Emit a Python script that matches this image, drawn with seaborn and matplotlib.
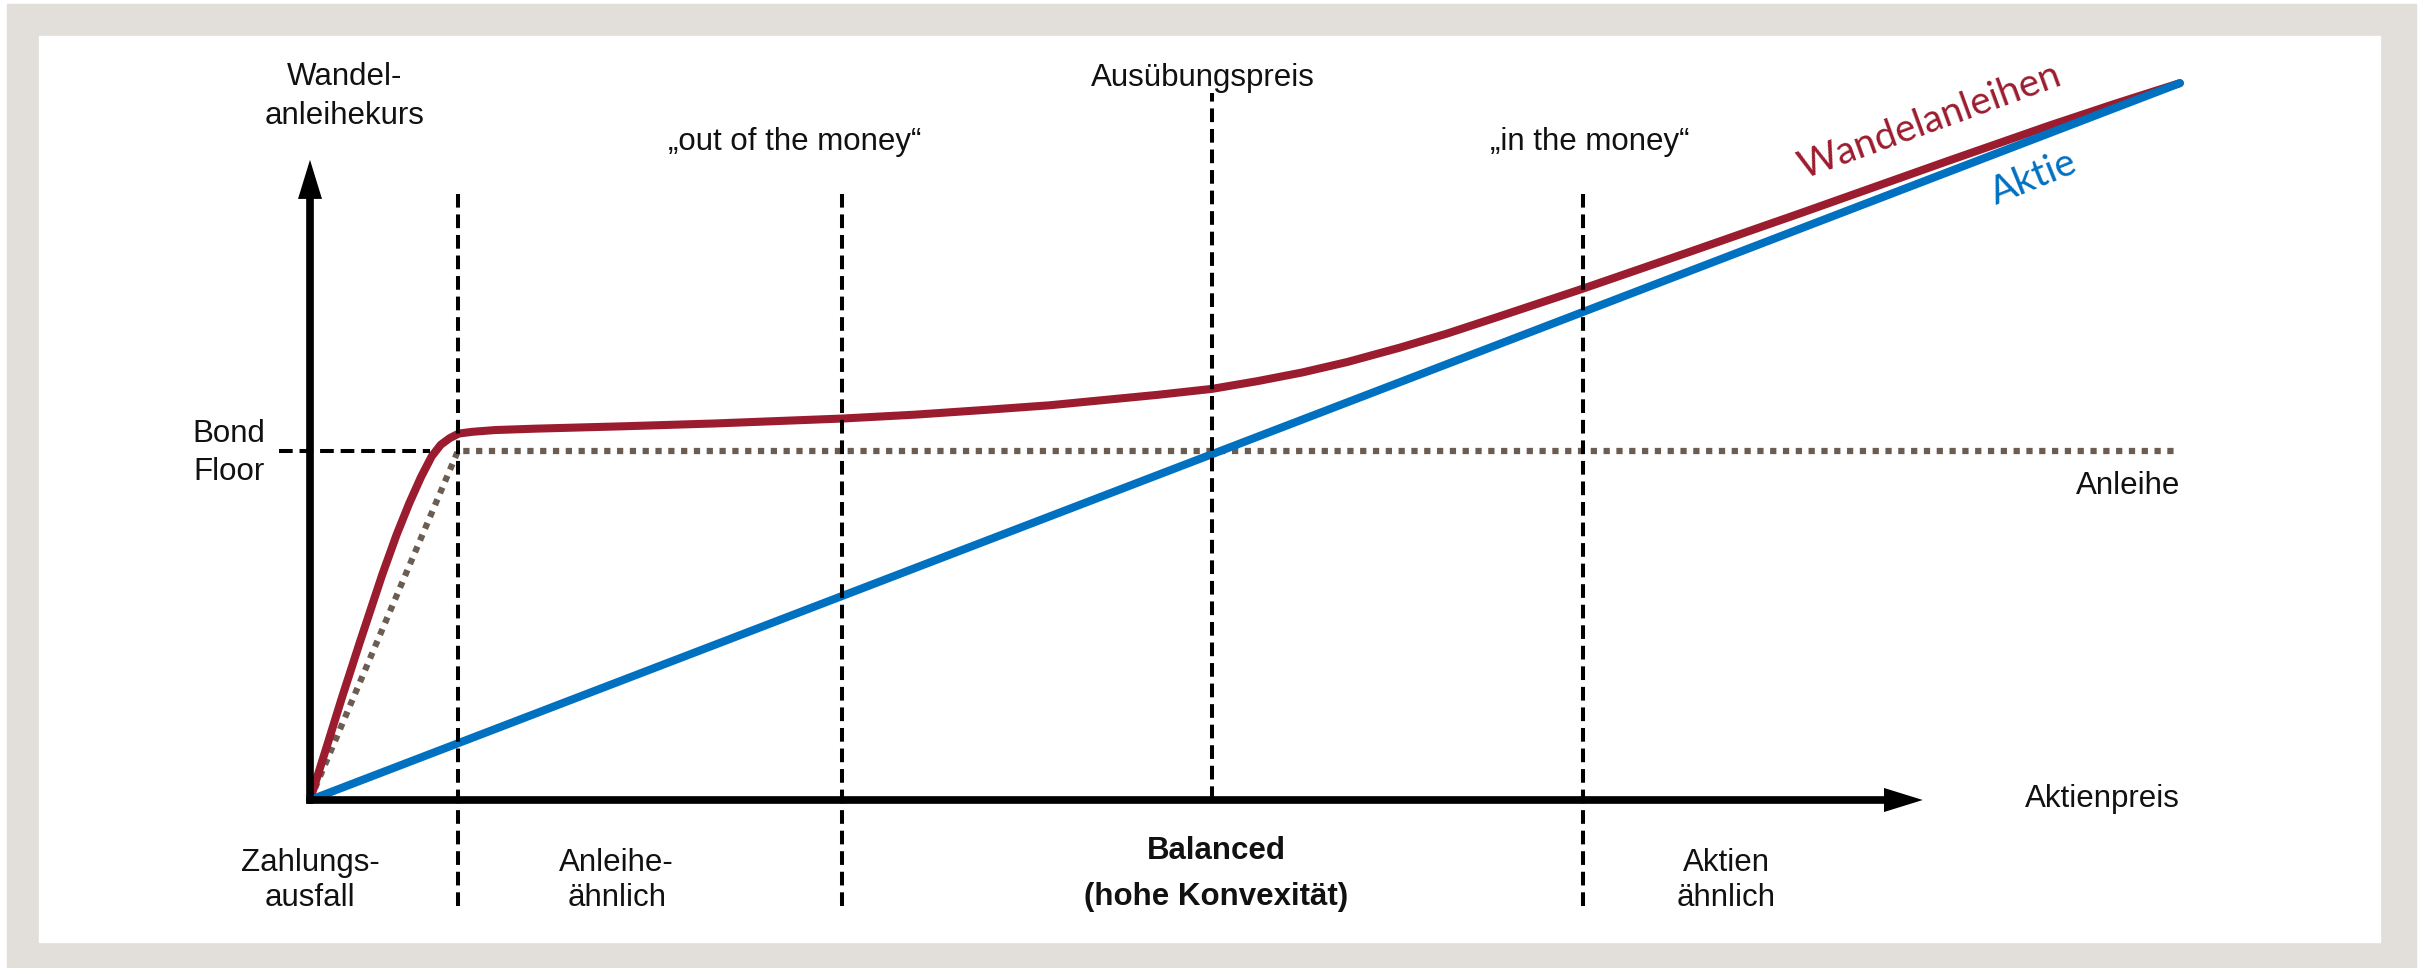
import matplotlib
matplotlib.use("Agg")
import matplotlib.pyplot as plt
from matplotlib.patches import Rectangle
import pandas as pd
import seaborn as sns

# Aktie: Kurs der Aktie
stock_x = [0, 207.3]
stock_y = [0, 205.4]

# Anleihe: Bond Floor
bond_x = [0, 16.4, 207.3]
bond_y = [0, 100, 100]

# Wandelanleihe
cb_x = [0, 2, 3.5, 5.5, 8, 9.6, 11, 12.3, 13.5, 14.5, 15.5, 16.5, 18, 20.5, 25,
        35, 45, 59, 67, 75, 82, 88, 94, 100, 105, 110, 115, 120.8, 126, 131.9,
        141.1, 153, 165.2, 181.8, 192.9, 200, 204, 207.3]
cb_y = [0, 16.5, 29, 45, 64.5, 76, 85, 92.5, 98.5, 101.8, 103.7, 105.0, 105.5, 106.0, 106.4,
        107.1, 107.9, 109.3, 110.4, 111.8, 113.1, 114.6, 116.1, 117.8, 120.0, 122.5,
        125.5, 129.6, 133.6, 138.6, 146.5, 157.1, 168.1, 183.3, 193.3, 199.4, 202.7, 205.4]

bond_floor = 100
zone_bounds = [16.4, 59, 100, 141.1]
zone_labels = [("Zahlungs-", "ausfall"), ("Anleihe-", "ähnlich"),
               ("Balanced", "(hohe Konvexität)"), ("Aktien", "ähnlich")]
zone_label_x = [0, 34, 100.5, 157]

RED = "#9B1C2E"
BLUE = "#0070C0"
BROWN = "#6B5D52"
FRAME = "#E2DED9"
INK = "#111111"

sns.set_style("white")
plt.rcParams["font.family"] = ["Liberation Sans", "DejaVu Sans"]

W, H = 2428, 968
fig = plt.figure(figsize=(W / 100, H / 100), dpi=100)
fig.patches.append(Rectangle((7 / W, 0), 2409 / W, 964 / H, transform=fig.transFigure,
                             color=FRAME, zorder=-2))
fig.patches.append(Rectangle((39 / W, 26 / H), 2341 / W, 906 / H, transform=fig.transFigure,
                             color="white", zorder=-1))

ax = fig.add_axes([0, 0, 1, 1])
ax.set_facecolor("none")
ax.set_xlim(-310 / 9.02, (W - 310) / 9.02)
ax.set_ylim((800 - H) / 3.49, 800 / 3.49)
ax.axis("off")

bond = pd.DataFrame({"x": bond_x, "y": bond_y})
cb = pd.DataFrame({"x": cb_x, "y": cb_y})
stock = pd.DataFrame({"x": stock_x, "y": stock_y})

sns.lineplot(data=bond, x="x", y="y", ax=ax, color=BROWN, estimator=None, zorder=3)
line = ax.lines[-1]
line.set_linewidth(4.5)
line.set_linestyle((0, (1, 1.05)))
line.set_dash_capstyle("butt")

sns.lineplot(data=cb, x="x", y="y", ax=ax, color=RED, estimator=None, zorder=4)
ax.lines[-1].set_linewidth(5.8)
ax.lines[-1].set_solid_joinstyle("round")
sns.lineplot(data=stock, x="x", y="y", ax=ax, color=BLUE, estimator=None, zorder=5)
ax.lines[-1].set_linewidth(5.8)

# Zonen-Grenzen
bottoms = [-30.4, -30.4, 0, -30.4]
tops = [173.6, 173.6, 202.6, 173.6]
ax.vlines(zone_bounds, bottoms, tops, colors="black", linewidth=2.9,
          linestyles=(0, (3.4, 1.7)), zorder=6)
ax.hlines(bond_floor, -3.4, 13.3, colors="black", linewidth=2.9,
          linestyles=(0, (3.4, 1.7)), zorder=6)

# Achsen mit Pfeilen
ax.arrow(-0.4, 0, 179.2, 0, width=2.2, head_width=6.9, head_length=4.3,
         length_includes_head=True, color="black", linewidth=0, zorder=7)
ax.arrow(0, -1.07, 0, 184.5, width=0.85, head_width=2.66, head_length=11.2,
         length_includes_head=True, color="black", linewidth=0, zorder=7)

fs = 22.5
txt = dict(color=INK, fontsize=fs, va="baseline")
ax.text(3.8, 204.9, "Wandel-", ha="center", **txt)
ax.text(3.8, 193.7, "anleihekurs", ha="center", **txt)
ax.text(-5.0, 102.6, "Bond", ha="right", **txt)
ax.text(-5.0, 91.7, "Floor", ha="right", **txt)
ax.text(99, 204.6, "Ausübungspreis", ha="center", **txt)
ax.text(53.7, 186.2, "\u201eout of the money\u201c", ha="center", **txt)
ax.text(141.9, 186.2, "\u201ein the money\u201c", ha="center", **txt)
ax.text(207.3, 87.7, "Anleihe", ha="right", **txt)
ax.text(198.7, -2.0, "Aktienpreis", ha="center", **txt)

for (l1, l2), lx in zip(zone_labels, zone_label_x):
    if l1 == "Balanced":
        ax.text(lx, -16.9, l1, ha="center", fontweight="bold", **txt)
        ax.text(lx, -30.2, l2, ha="center", fontweight="bold", **txt)
    else:
        ax.text(lx, -20.3, l1, ha="center", **txt)
        ax.text(lx, -30.4, l2, ha="center", **txt)

ax.text(179.6, 194.6, "Wandelanleihen", color=RED, fontsize=28, family=["Lato", "DejaVu Sans"],
        rotation=20, rotation_mode="anchor", ha="center", va="center")
ax.text(191.1, 178.2, "Aktie", color=BLUE, fontsize=28, family=["Lato", "DejaVu Sans"],
        rotation=22, rotation_mode="anchor", ha="center", va="center")

fig.savefig("out.png", dpi=100)
